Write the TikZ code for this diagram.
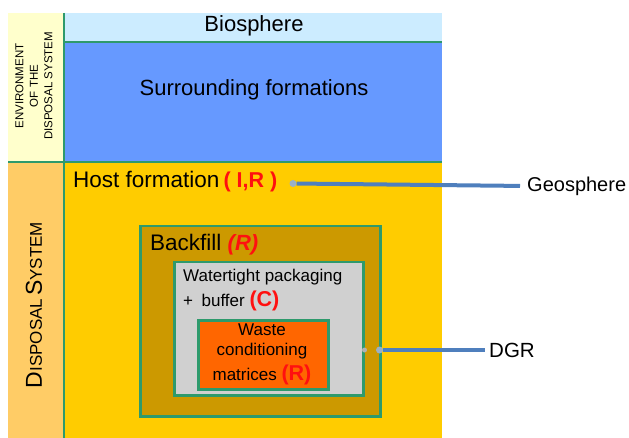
\documentclass[tikz,border=0pt]{standalone}
\usepackage{fontspec}
\setmainfont{Liberation Sans}
\usetikzlibrary{%
  positioning,%
  calc%
}

\definecolor{envyellow}{HTML}{FFFFCC}
\definecolor{dispamber}{HTML}{FFCC66}
\definecolor{biosky}{HTML}{CCECFF}
\definecolor{surrblue}{HTML}{6699FF}
\definecolor{hostgold}{HTML}{FFCC00}
\definecolor{backbrown}{HTML}{CC9900}
\definecolor{packgray}{HTML}{D0D0D0}
\definecolor{wasteorange}{HTML}{FF6600}
\definecolor{sepgreen}{HTML}{2E9A6C}
\definecolor{linkblue}{HTML}{4F7FBD}
\definecolor{dotblue}{HTML}{9AB0C8}
\definecolor{tagred}{HTML}{FF1010}

\newcommand{\fs}[1]{\fontsize{#1}{#1}\selectfont}
\newcommand{\tagbf}[2]{{\fs{#1}\bfseries\color{tagred}#2}}

\begin{document}
\begin{tikzpicture}
[x=1pt, y=-1pt,
zone/.style={rectangle, fill, inner sep=0pt, anchor=north west},
barrier/.style={rectangle, draw=sepgreen, line width=2.5pt, inner sep=0pt, anchor=north west},
sep/.style={draw=sepgreen, line width=2pt},
txt/.style={inner sep=0pt},
link/.style={draw=linkblue, line width=4pt},
dot/.style={circle, fill=dotblue, inner sep=0pt, minimum size=7pt},
smalldot/.style={circle, fill=gray!60, inner sep=0pt, minimum size=5pt}]

\useasboundingbox (0,0) rectangle (629,438);

\node[zone, fill=envyellow, minimum width=56pt, minimum height=149pt] (env) at (8,13) {};
\node[zone, fill=dispamber, minimum width=56pt, minimum height=276pt] (dispcol) at (8,162) {};
\node[zone, fill=biosky, minimum width=378pt, minimum height=29pt] (bio) at (64,13) {};
\node[zone, fill=surrblue, minimum width=378pt, minimum height=120pt] (surr) at (64,42) {};
\node[zone, fill=hostgold, minimum width=378pt, minimum height=276pt] (host) at (64,162) {};

\draw[sep] (env.north east) -- (dispcol.south east);
\draw[sep] (bio.south west) -- (bio.south east);
\draw[sep] (env.south west) -- (surr.south east);

\node[barrier, fill=backbrown, minimum width=240pt, minimum height=190pt] (backfill) at (139,225) {};
\node[barrier, fill=packgray, minimum width=189pt, minimum height=133pt] (pack) at (173,261) {};
\node[barrier, fill=wasteorange, minimum width=130pt, minimum height=69pt] (waste) at (197,319) {};

\node[txt, rotate=90, align=center, font=\fontsize{11.5}{14.5}\selectfont] (envtxt) at (34,86)
  {ENVIRONMENT\\OF THE\\DISPOSAL SYSTEM};
\node[txt, rotate=90] (disptxt) at (34,305)
  {{\fs{23}D}{\fs{17}ISPOSAL} {\fs{23}S}{\fs{17}YSTEM}};

\node[txt, font=\fs{22}] (biotxt) at (254,26) {Biosphere};
\node[txt, font=\fs{22}] (surrtxt) at (254,90) {Surrounding formations};
\node[txt, anchor=west, font=\fs{22.5}] (hosttxt) at (73,182) {Host formation\hspace{4pt}\tagbf{21.5}{( I,R )}};
\node[txt, anchor=west, font=\fs{22.5}] (backtxt) at (150,245) {Backfill \tagbf{22}{\itshape(R)}};
\node[txt, anchor=west, font=\fs{17}] (packtxt) at (183,277) {Watertight packaging};
\node[txt, anchor=west, font=\fs{17}] (buftxt) at (183,301) {+\enspace buffer \tagbf{21.5}{(C)}};
\node[txt, align=center, font=\fs{17}] (wastetxt) at (262,330) {Waste};
\node[txt, align=center, font=\fs{17}] (condtxt) at (262,351) {conditioning};
\node[txt, align=center, font=\fs{17}] (matrtxt) at (262,375) {matrices \tagbf{21.5}{(R)}};

\node[txt, anchor=west, font=\fs{20}] (geo) at (527,186) {Geosphere};
\node[txt, anchor=west, font=\fs{20.5}] (dgr) at (489,350) {DGR};

\node[dot] (geodot) at (293,183.5) {};
\draw[link, shorten >=7pt] (geodot) -- (geo.west);

\node[smalldot] (packdot) at (pack.east |- dgr.west) {};
\node[dot] (backdot) at ($(backfill.east |- dgr.west)+(-2,0)$) {};
\draw[link, shorten >=4pt] (backdot) -- (dgr.west);
\end{tikzpicture}
\end{document}
